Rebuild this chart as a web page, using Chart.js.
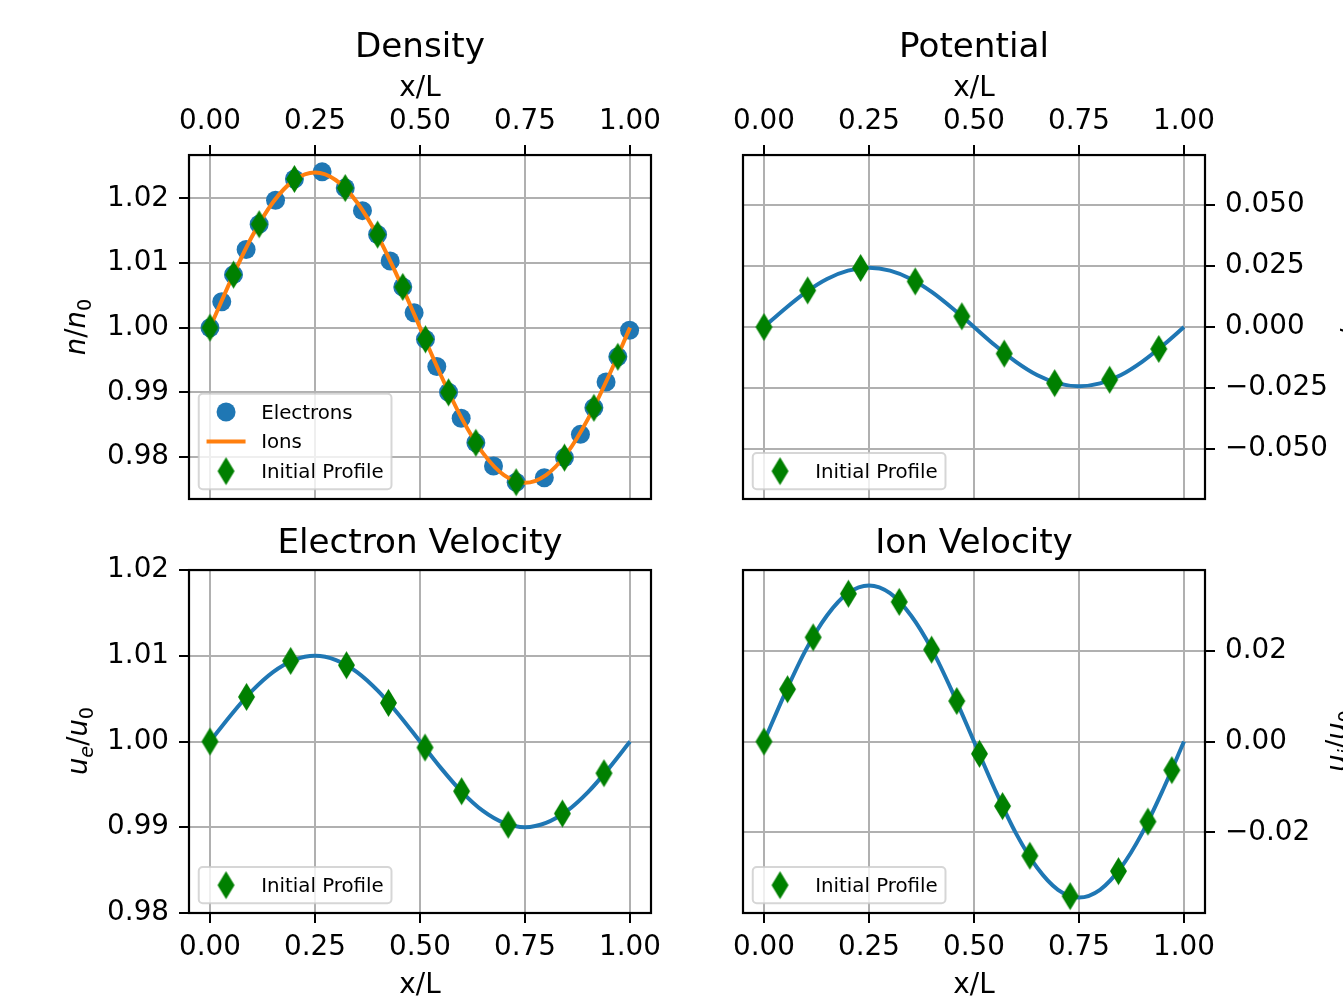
<!DOCTYPE html>
<html>
<head>
<meta charset="utf-8">
<script src="https://cdn.jsdelivr.net/npm/chart.js@4.4.0/dist/chart.umd.min.js"></script>
<style>
html, body { margin: 0; padding: 0; background: #fff; }
#wrap { position: relative; width: 1343px; height: 1002px; overflow: hidden; }
#wrap canvas { position: absolute; left: 0; top: 0; }
</style>
</head>
<body>
<div id="wrap">
  <canvas id="density" width="1343" height="1002"></canvas>
  <canvas id="potential" width="1343" height="1002"></canvas>
  <canvas id="elecvel" width="1343" height="1002"></canvas>
  <canvas id="ionvel" width="1343" height="1002"></canvas>
</div>
<script>
// grid used by the smooth curves
var gridX = [0, 0.05, 0.1, 0.15, 0.2, 0.25, 0.3, 0.35, 0.4, 0.45, 0.5, 0.55, 0.6, 0.65, 0.7, 0.75, 0.8, 0.85, 0.9, 0.95, 1];

// density panel
var elecX = [0, 0.028, 0.056, 0.086, 0.117, 0.156, 0.201, 0.267, 0.322, 0.363, 0.399, 0.429, 0.459, 0.486,
             0.513, 0.540, 0.568, 0.598, 0.633, 0.675, 0.729, 0.796, 0.844, 0.882, 0.914, 0.943, 0.971, 0.999];
var elecDensity = [1.0000, 1.0040, 1.0082, 1.0121, 1.0160, 1.0197, 1.0230, 1.0241, 1.0216, 1.0181, 1.0144, 1.0103, 1.0063, 1.0023,
                   0.9982, 0.9940, 0.9900, 0.9860, 0.9822, 0.9786, 0.9761, 0.9768, 0.9799, 0.9835, 0.9876, 0.9916, 0.9955, 0.9996];
var ionDensity = [1.0000, 1.0074, 1.0141, 1.0194, 1.0228, 1.0240, 1.0228, 1.0194, 1.0141, 1.0074, 1.0000,
                  0.9926, 0.9859, 0.9806, 0.9772, 0.9760, 0.9772, 0.9806, 0.9859, 0.9926, 1.0000];
var initX = [0, 0.056, 0.117, 0.201, 0.322, 0.399, 0.459, 0.513, 0.568, 0.633, 0.729, 0.844, 0.914, 0.971];
var initDensity = [1.0000, 1.0082, 1.0160, 1.0230, 1.0216, 1.0144, 1.0063, 0.9982, 0.9900, 0.9822, 0.9761, 0.9799, 0.9876, 0.9955];

// potential panel
var potential = [0, 0.0075, 0.0143, 0.0197, 0.0231, 0.0243, 0.0231, 0.0197, 0.0143, 0.0075, 0,
                 -0.0075, -0.0143, -0.0197, -0.0231, -0.0243, -0.0231, -0.0197, -0.0143, -0.0075, 0];
var initPotX = [0, 0.104, 0.230, 0.360, 0.471, 0.572, 0.692, 0.823, 0.940];
var initPot = [0, 0.0150, 0.0242, 0.0187, 0.0044, -0.0109, -0.0230, -0.0216, -0.0090];

// electron velocity panel
var elecVel = [1.0000, 1.0031, 1.0059, 1.0081, 1.0095, 1.0100, 1.0095, 1.0081, 1.0059, 1.0031, 1.0000,
               0.9969, 0.9941, 0.9919, 0.9905, 0.9900, 0.9905, 0.9919, 0.9941, 0.9969, 1.0000];
var initElecVelX = [0, 0.087, 0.192, 0.325, 0.425, 0.512, 0.599, 0.710, 0.839, 0.938];
var initElecVel = [1.0000, 1.0052, 1.0094, 1.0089, 1.0045, 0.9993, 0.9942, 0.9903, 0.9916, 0.9963];

// ion velocity panel
var ionVel = [0, 0.0106, 0.0202, 0.0277, 0.0326, 0.0343, 0.0326, 0.0277, 0.0202, 0.0106, 0,
              -0.0106, -0.0202, -0.0277, -0.0326, -0.0343, -0.0326, -0.0277, -0.0202, -0.0106, 0];
var initIonVel = [0, 0.0115, 0.0229, 0.0325, 0.0307, 0.0202, 0.0089, -0.0027, -0.0142, -0.0251, -0.0340, -0.0285, -0.0176, -0.0063];

// tick labels
var xTicks = [0, 0.25, 0.5, 0.75, 1];
var densityTicks = [0.98, 0.99, 1.00, 1.01, 1.02];
var potentialTicks = [-0.05, -0.025, 0, 0.025, 0.05];
var elecVelTicks = [0.98, 0.99, 1.00, 1.01, 1.02];
var ionVelTicks = [-0.02, 0, 0.02];

var W = 1343, H = 1002;
var FONT = 'DejaVu Sans';
var BLUE = '#1f77b4', ORANGE = '#ff7f0e', GREEN = '#008000';
Chart.defaults.color = '#000';
Chart.defaults.font.family = FONT;

function pts(xs, ys) {
    return xs.map(function (x, i) { return {x: x, y: ys[i]}; });
}

// thin diamond marker like matplotlib 'd'
var diamond = document.createElement('canvas');
diamond.width = 19; diamond.height = 30;
(function () {
    var c = diamond.getContext('2d');
    c.fillStyle = GREEN;
    c.beginPath();
    c.moveTo(9.5, 1); c.lineTo(18, 15); c.lineTo(9.5, 29); c.lineTo(1, 15);
    c.closePath(); c.fill();
})();

function fmt(v, d) {
    var s = Math.abs(v).toFixed(d);
    return v < -1e-9 ? '\u2212' + s : s;
}

var framePlugin = {
    id: 'frame',
    afterDatasetsDraw: function (chart) {
        var a = chart.chartArea, ctx = chart.ctx;
        ctx.save();
        ctx.strokeStyle = '#000';
        ctx.lineWidth = 2.2;
        ctx.strokeRect(a.left, a.top, a.right - a.left, a.bottom - a.top);
        ctx.restore();
    }
};

var legendPlugin = {
    id: 'mplLegend',
    afterDraw: function (chart) {
        var a = chart.chartArea, ctx = chart.ctx;
        var items = chart.data.datasets.filter(function (d) { return d.label; });
        var fs = 19.8, bp = 7.8, rowH = 20.6, gap = 9, hl = 39, htp = 15.6;
        ctx.save();
        ctx.font = fs + 'px ' + FONT;
        var tw = 0;
        items.forEach(function (d) { tw = Math.max(tw, ctx.measureText(d.label).width); });
        var w = bp + hl + htp + tw + bp;
        var h = 2 * bp + items.length * rowH + (items.length - 1) * gap;
        var x0 = a.left + 9.75, y0 = a.bottom - 9.75 - h;
        ctx.beginPath();
        ctx.roundRect(x0, y0, w, h, 4);
        ctx.fillStyle = 'rgba(255,255,255,0.8)';
        ctx.fill();
        ctx.strokeStyle = 'rgba(204,204,204,0.8)';
        ctx.lineWidth = 2;
        ctx.stroke();
        items.forEach(function (d, i) {
            var cy = y0 + bp + rowH / 2 + i * (rowH + gap);
            var cx = x0 + bp + hl / 2;
            if (d.showLine) {
                ctx.strokeStyle = d.borderColor;
                ctx.lineWidth = d.borderWidth;
                ctx.beginPath();
                ctx.moveTo(x0 + bp, cy); ctx.lineTo(x0 + bp + hl, cy);
                ctx.stroke();
            } else if (d.pointStyle === 'circle') {
                ctx.fillStyle = d.pointBackgroundColor;
                ctx.beginPath();
                ctx.arc(cx, cy, d.pointRadius, 0, Math.PI * 2);
                ctx.fill();
            } else {
                ctx.drawImage(d.pointStyle, cx - d.pointStyle.width / 2, cy - d.pointStyle.height / 2);
            }
            ctx.fillStyle = '#000';
            ctx.textBaseline = 'middle';
            ctx.textAlign = 'left';
            ctx.fillText(d.label, x0 + bp + hl + htp, cy + 1.5);
        });
        ctx.restore();
    }
};

// rotated math-style y label, parts: [text, style] with i = italic, r = roman, s = subscript
function yLabelPlugin(spec) {
    return {
        id: 'yLabel',
        afterDraw: function (chart) {
            var ctx = chart.ctx, fs = 27.5;
            var items = spec.parts.map(function (p) {
                var sub = p[1].indexOf('s') >= 0;
                var it = p[1].indexOf('i') >= 0;
                var f = (it ? 'italic ' : '') + (sub ? fs * 0.7 : fs) + 'px ' + FONT;
                ctx.font = f;
                return {t: p[0], f: f, dy: sub ? 6 : 0, w: ctx.measureText(p[0]).width};
            });
            var total = items.reduce(function (s, p) { return s + p.w; }, 0);
            ctx.save();
            ctx.translate(spec.x, spec.y);
            ctx.rotate(-Math.PI / 2);
            ctx.fillStyle = '#000';
            ctx.textBaseline = 'alphabetic';
            ctx.textAlign = 'left';
            var x = -total / 2;
            items.forEach(function (p) {
                ctx.font = p.f;
                ctx.fillText(p.t, x, p.dy);
                x += p.w;
            });
            ctx.restore();
        }
    };
}

function panel(id, cfg) {
    var top = cfg.xPos === 'top';
    var yLeft = cfg.yPos === 'left';
    var area = cfg.area; // plot frame: left, top, right, bottom
    var yW = yLeft ? 80 : 136;
    var xH = top ? 86 : 89;
    var pad = {
        left: yLeft ? area[0] - yW : area[0],
        right: yLeft ? W - area[2] : W - area[2] - yW,
        top: top ? 28 : 523.5,
        bottom: top ? H - area[3] : H - area[3] - xH
    };
    var grid = {color: '#b0b0b0', lineWidth: 2, tickColor: '#000', tickWidth: 2, tickLength: 10};
    return new Chart(document.getElementById(id).getContext('2d'), {
        type: 'scatter',
        data: {datasets: cfg.datasets},
        options: {
            responsive: false,
            animation: false,
            events: [],
            layout: {padding: pad},
            plugins: {
                legend: {display: false},
                tooltip: {enabled: false},
                title: {
                    display: true, text: cfg.title, fullSize: false,
                    font: {size: 34.2, weight: 'normal', family: FONT, lineHeight: 1.2},
                    color: '#000',
                    padding: top ? {top: 0, bottom: 0} : {top: 0, bottom: 5.5}
                }
            },
            scales: {
                x: {
                    type: 'linear', position: cfg.xPos, min: -0.05, max: 1.05,
                    afterBuildTicks: function (s) { s.ticks = xTicks.map(function (v) { return {value: v}; }); },
                    afterFit: function (s) { s.height = xH; },
                    ticks: {autoSkip: false, maxRotation: 0, padding: top ? 7 : 8,
                            font: {size: 27.8, family: FONT},
                            callback: function (v) { return fmt(v, 2); }},
                    grid: grid,
                    border: {display: false},
                    title: {display: true, text: 'x/L', font: {size: 27.8, family: FONT, lineHeight: 1.2},
                            padding: top ? {top: 3, bottom: 0} : {top: 0, bottom: 0}}
                },
                y: {
                    type: 'linear', position: cfg.yPos, min: cfg.yMin, max: cfg.yMax,
                    afterBuildTicks: function (s) { s.ticks = cfg.yTicks.map(function (v) { return {value: v}; }); },
                    afterFit: function (s) { s.width = yW; },
                    ticks: {autoSkip: false, padding: 10, font: {size: 27.8, family: FONT},
                            callback: function (v) { return fmt(v, cfg.yDigits); }},
                    grid: grid,
                    border: {display: false}
                }
            }
        },
        plugins: [framePlugin, legendPlugin, yLabelPlugin(cfg.ylab)]
    });
}

function curve(ys, color) {
    return {data: pts(gridX, ys), showLine: true, borderColor: color, borderWidth: 4,
            pointRadius: 0, cubicInterpolationMode: 'monotone', order: 2};
}
function initial(xs, ys) {
    return {label: 'Initial Profile', data: pts(xs, ys), showLine: false, pointStyle: diamond,
            pointRadius: 14, order: 1};
}

panel('density', {
    title: 'Density', xPos: 'top', yPos: 'left', area: [189, 155, 651, 499],
    yMin: 0.9735, yMax: 1.0267, yTicks: densityTicks, yDigits: 2,
    ylab: {x: 85, y: 327, parts: [['n', 'i'], ['/', 'r'], ['n', 'i'], ['0', 'rs']]},
    datasets: [
        {label: 'Electrons', data: pts(elecX, elecDensity), showLine: false, pointStyle: 'circle',
         pointRadius: 9.5, pointBackgroundColor: BLUE, pointBorderWidth: 0, order: 3},
        (function () { var d = curve(ionDensity, ORANGE); d.label = 'Ions'; return d; })(),
        initial(initX, initDensity)
    ]
});

panel('potential', {
    title: 'Potential', xPos: 'top', yPos: 'right', area: [743, 155, 1205, 499],
    yMin: -0.0705, yMax: 0.0705, yTicks: potentialTicks, yDigits: 3,
    ylab: {x: 1361, y: 327, parts: [['\u03c6', 'i'], ['/', 'r'], ['\u03c6', 'i'], ['0', 'rs']]},
    datasets: [curve(potential, BLUE), initial(initPotX, initPot)]
});

panel('elecvel', {
    title: 'Electron Velocity', xPos: 'bottom', yPos: 'left', area: [189, 570, 651, 913],
    yMin: 0.98, yMax: 1.02, yTicks: elecVelTicks, yDigits: 2,
    ylab: {x: 87, y: 741, parts: [['u', 'i'], ['e', 'is'], ['/', 'r'], ['u', 'i'], ['0', 'rs']]},
    datasets: [curve(elecVel, BLUE), initial(initElecVelX, initElecVel)]
});

panel('ionvel', {
    title: 'Ion Velocity', xPos: 'bottom', yPos: 'right', area: [743, 570, 1205, 913],
    yMin: -0.0377, yMax: 0.0377, yTicks: ionVelTicks, yDigits: 2,
    ylab: {x: 1346, y: 741, parts: [['u', 'i'], ['i', 'is'], ['/', 'r'], ['u', 'i'], ['0', 'rs']]},
    datasets: [curve(ionVel, BLUE), initial(initX, initIonVel)]
});
</script>
</body>
</html>
